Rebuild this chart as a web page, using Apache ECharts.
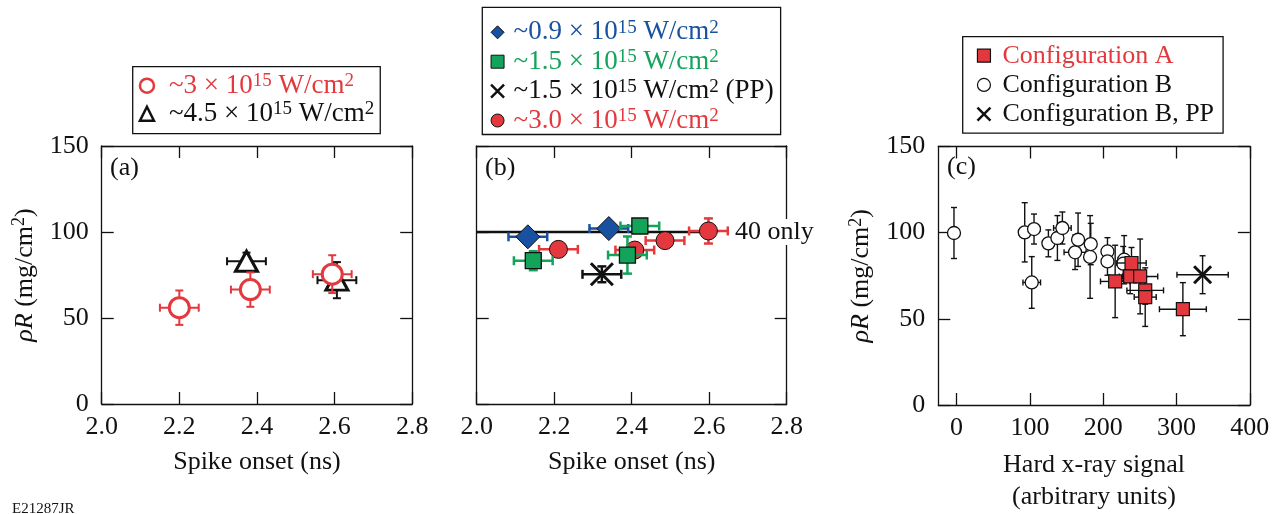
<!DOCTYPE html>
<html>
<head>
<meta charset="utf-8">
<script src="https://cdn.jsdelivr.net/npm/echarts@6/dist/echarts.min.js"></script>
<style>
  html, body { margin: 0; padding: 0; background: #fff; }
  #chart { width: 1276px; height: 514px; }
</style>
</head>
<body>
<div id="chart"></div>
<script>
const FONT = '"Liberation Serif", "Times New Roman", Times, serif';
const INK = '#111111';
const RED = '#E3393E';
const GREEN = '#13A35A';
const BLUE = '#17519F';

// Each row: [x, ρR (mg/cm²), x error, ρR error]
// Panel (a): spike onset vs ρR
const aIntensity3 = [[2.200, 56.0, 0.05, 10], [2.383, 66.5, 0.05, 10], [2.594, 75.5, 0.05, 11]];
const aIntensity45 = [[2.373, 83.0, 0.05, 5], [2.606, 72.0, 0.05, 10.5]];
// Panel (b): spike onset vs ρR by intensity
const bIntensity09 = [[2.132, 97.2, 0.05, 0], [2.341, 102.0, 0.05, 0]];
const bIntensity15 = [[2.146, 83.3, 0.05, 5.5], [2.421, 103.5, 0.05, 0], [2.389, 86.6, 0.05, 10.8]];
const bIntensity15PP = [[2.323, 75.4, 0.05, 4.6]];
const bIntensity30 = [[2.211, 89.9, 0.05, 3], [2.408, 89.5, 0.05, 0], [2.486, 95.0, 0.05, 0], [2.598, 100.6, 0.05, 7.3]];
const bOnly40 = [[2.0, 100], [2.62, 100]];
// Panel (c): hard x-ray signal vs ρR
const cConfigA = [[216.3, 71.7, 20, 21], [238.6, 82.4, 20, 9], [236.8, 74.6, 15, 10], [250.4, 74.6, 24, 21.7],
                  [257.3, 66.5, 25, 8], [257.3, 62.6, 15, 17], [308.7, 55.6, 32, 15.4]];
const cConfigB = [[-3.6, 99.8, 0, 14.8], [92.9, 100.2, 8, 17.2], [105.6, 102.1, 8, 8.7], [102.5, 71.1, 12, 15],
                  [125.2, 93.8, 6, 7.8], [137.5, 96.9, 5, 13], [144.3, 102.7, 12, 9.3], [161.6, 88.6, 15, 10],
                  [165.7, 95.9, 6, 15.5], [182.1, 85.9, 6, 24], [183.0, 93.4, 6, 12], [205.8, 89.1, 6, 8],
                  [205.8, 83.3, 6, 8], [228.6, 84.3, 8, 14], [227.3, 82.0, 6, 10]];
const cConfigBPP = [[335.6, 75.6, 35, 11]];

// Axis ticks
const spikeTicks = [2.0, 2.2, 2.4, 2.6, 2.8];
const rhoTicks = [0, 50, 100, 150];
const hxrTicks = [0, 100, 200, 300, 400];
const hxrMin = -25;

const X_PATH = 'path://M0,0L10,10M10,0L0,10';

function tickStyle() {
  return { show: true, inside: true, length: 12, lineStyle: { color: INK, width: 1.3 } };
}
function lineStyle() {
  return { show: true, onZero: false, lineStyle: { color: INK, width: 1.3 } };
}
const labelFont = { color: INK, fontFamily: FONT, fontSize: 26 };

const supRich = {
  i: { fontStyle: 'italic', fontFamily: FONT, fontSize: 26, lineHeight: 28, color: INK },
  s: { fontFamily: FONT, fontSize: 18, lineHeight: 16, verticalAlign: 'top', color: INK }
};

function spikeAxis(gridIndex, top) {
  return {
    type: 'value', gridIndex, position: top ? 'top' : 'bottom',
    min: spikeTicks[0], max: spikeTicks[spikeTicks.length - 1], interval: 0.2,
    axisLine: lineStyle(), axisTick: tickStyle(), splitLine: { show: false },
    axisLabel: top ? { show: false } : Object.assign({ show: true, margin: 10, showMinLabel: true, showMaxLabel: true,
      formatter: v => v.toFixed(1) }, labelFont),
    name: top ? '' : 'Spike onset (ns)', nameLocation: 'middle', nameGap: 45, nameMoveOverlap: false,
    nameTextStyle: Object.assign({ lineHeight: 26 }, labelFont)
  };
}
function hxrAxis(gridIndex, top) {
  return {
    type: 'value', gridIndex, position: top ? 'top' : 'bottom',
    min: hxrMin, max: hxrTicks[hxrTicks.length - 1],
    axisLine: lineStyle(),
    axisTick: Object.assign(tickStyle(), { customValues: hxrTicks }),
    splitLine: { show: false },
    axisLabel: top ? { show: false, customValues: hxrTicks }
                   : Object.assign({ show: true, margin: 10, customValues: hxrTicks }, labelFont),
    name: top ? '' : 'Hard x-ray signal\n(arbitrary units)', nameLocation: 'middle', nameGap: 44, nameMoveOverlap: false,
    nameTextStyle: Object.assign({ lineHeight: 32 }, labelFont)
  };
}
function rhoAxis(gridIndex, right, labelled) {
  return {
    type: 'value', gridIndex, position: right ? 'right' : 'left',
    min: rhoTicks[0], max: rhoTicks[rhoTicks.length - 1], interval: 50,
    axisLine: lineStyle(), axisTick: tickStyle(), splitLine: { show: false },
    axisLabel: labelled ? Object.assign({ show: true, margin: 13, showMinLabel: true, showMaxLabel: true }, labelFont)
                        : { show: false },
    name: labelled ? '{i|ρR} (mg/cm{s|2})' : '', nameLocation: 'middle', nameRotate: 90, nameGap: 63,
    nameMoveOverlap: false,
    nameTextStyle: Object.assign({ lineHeight: 28, rich: supRich }, labelFont)
  };
}

function errorBars(data, xi, color, width, cap, z) {
  return {
    type: 'custom', xAxisIndex: xi, yAxisIndex: xi, z, silent: true,
    data, encode: { x: 0, y: 1 },
    renderItem(params, api) {
      const x = api.value(0), y = api.value(1), xe = api.value(2), ye = api.value(3);
      const style = { stroke: color, lineWidth: width, fill: null };
      const kids = [];
      const seg = (x1, y1, x2, y2) => kids.push({ type: 'line', shape: { x1, y1, x2, y2 }, style });
      if (xe > 0) {
        const l = api.coord([x - xe, y]), r = api.coord([x + xe, y]);
        seg(l[0], l[1], r[0], r[1]);
        seg(l[0], l[1] - cap, l[0], l[1] + cap);
        seg(r[0], r[1] - cap, r[0], r[1] + cap);
      }
      if (ye > 0) {
        const b = api.coord([x, y - ye]), t = api.coord([x, y + ye]);
        seg(b[0], b[1], t[0], t[1]);
        seg(b[0] - cap, b[1], b[0] + cap, b[1]);
        seg(t[0] - cap, t[1], t[0] + cap, t[1]);
      }
      return { type: 'group', children: kids };
    }
  };
}

function scatter(name, data, xi, symbol, size, itemStyle, z) {
  return {
    type: 'scatter', name, data, xAxisIndex: xi, yAxisIndex: xi, symbol, symbolSize: size,
    itemStyle: Object.assign({ opacity: 1 }, itemStyle), z
  };
}

function makeRich(size, sup, spWidth) {
  const main = c => ({ color: c, fontFamily: FONT, fontSize: size, lineHeight: 28 });
  const hi = c => ({ color: c, fontFamily: FONT, fontSize: sup, lineHeight: 16, verticalAlign: 'top' });
  return {
    sp: { width: spWidth, fontSize: size },
    r: main(RED), rs: hi(RED), k: main(INK), ks: hi(INK),
    b: main(BLUE), bs: hi(BLUE), g: main(GREEN), gs: hi(GREEN)
  };
}
function intensityText(c, mant, tail) {
  return `{sp| }{${c}|~${mant} × 10}{${c}s|15}{${c}| W/cm}{${c}s|2}` + (tail ? `{${c}|${tail}}` : '');
}
const legendText = {
  'a: 3e15': intensityText('r', '3'),
  'a: 4.5e15': intensityText('k', '4.5'),
  'b: 0.9e15': intensityText('b', '0.9'),
  'b: 1.5e15': intensityText('g', '1.5'),
  'b: 1.5e15 PP': intensityText('k', '1.5', ' (PP)'),
  'b: 3.0e15': intensityText('r', '3.0'),
  'Configuration A': '{sp| }{r|Configuration A}',
  'Configuration B': '{sp| }{k|Configuration B}',
  'Configuration B, PP': '{sp| }{k|Configuration B, PP}'
};
function legendBox(left, top, padding, size, gap, rich, data) {
  return {
    orient: 'vertical', left, top, padding, itemWidth: size, itemHeight: size, itemGap: gap,
    borderColor: INK, borderWidth: 1.3, backgroundColor: '#fff', selectedMode: false,
    formatter: n => legendText[n],
    textStyle: { fontFamily: FONT, fontSize: 26, lineHeight: 28, rich },
    data
  };
}

const chart = echarts.init(document.getElementById('chart'), null, { renderer: 'canvas' });
chart.setOption({
  animation: false,
  backgroundColor: '#fff',
  textStyle: { fontFamily: FONT },
  grid: [
    { left: 101.7, top: 146, width: 310.5, height: 258, outerBoundsMode: 'none' },
    { left: 476.7, top: 146, width: 310, height: 258, outerBoundsMode: 'none' },
    { left: 938.3, top: 146.5, width: 311.5, height: 258.5, outerBoundsMode: 'none' }
  ],
  xAxis: [spikeAxis(0, false), spikeAxis(0, true), spikeAxis(1, false), spikeAxis(1, true), hxrAxis(2, false), hxrAxis(2, true)],
  yAxis: [rhoAxis(0, false, true), rhoAxis(0, true, false), rhoAxis(1, false, false), rhoAxis(1, true, false),
          rhoAxis(2, false, true), rhoAxis(2, true, false)],
  legend: [
    legendBox(132.7, 66.7, [5, 6, 6, 6], 14, 0, makeRich(27, 19, 10), [
      { name: 'a: 3e15', icon: 'circle', itemStyle: { borderWidth: 2.5 } },
      { name: 'a: 4.5e15', icon: 'triangle', itemStyle: { borderWidth: 2.5 } }
    ]),
    legendBox(482.3, 7.3, [11, 7, 0, 7.5], 13, 1.4, makeRich(27, 19, 4.5), [
      { name: 'b: 0.9e15', icon: 'diamond', itemStyle: { borderWidth: 1 } },
      { name: 'b: 1.5e15', icon: 'rect', itemStyle: { borderWidth: 1 } },
      { name: 'b: 1.5e15 PP', icon: X_PATH, itemStyle: { borderWidth: 2.5 } },
      { name: 'b: 3.0e15', icon: 'circle', itemStyle: { borderWidth: 1 } }
    ]),
    legendBox(962.7, 36.7, [5, 9, 5, 13.5], 13, 1.2, makeRich(26, 18, 7), [
      { name: 'Configuration A', icon: 'rect', itemStyle: { borderWidth: 1.2 } },
      { name: 'Configuration B', icon: 'circle', itemStyle: { borderWidth: 1.2 } },
      { name: 'Configuration B, PP', icon: X_PATH, itemStyle: { borderWidth: 2.5 } }
    ])
  ],
  graphic: [
    { type: 'text', left: 110, top: 155, style: { text: '(a)', font: '26px ' + FONT, fill: INK } },
    { type: 'text', left: 485, top: 155, style: { text: '(b)', font: '26px ' + FONT, fill: INK } },
    { type: 'text', left: 947, top: 154, style: { text: '(c)', font: '26px ' + FONT, fill: INK } },
    { type: 'text', left: 12, top: 502, style: { text: 'E21287JR', font: '15px ' + FONT, fill: INK } }
  ],
  series: [
    // panel (a)
    errorBars(aIntensity45, 0, INK, 2, 4, 2),
    scatter('a: 4.5e15', aIntensity45, 0, 'triangle', [22, 20], { color: '#fff', borderColor: INK, borderWidth: 3 }, 3),
    errorBars(aIntensity3, 0, RED, 2, 4, 4),
    scatter('a: 3e15', aIntensity3, 0, 'circle', 20, { color: '#fff', borderColor: RED, borderWidth: 3 }, 5),
    // panel (b)
    {
      type: 'line', name: '40 only', data: bOnly40, xAxisIndex: 2, yAxisIndex: 2, symbol: 'none', z: 1,
      lineStyle: { color: INK, width: 2.5 }, silent: true,
      endLabel: { show: true, formatter: '40 only', color: INK, fontFamily: FONT, fontSize: 26, distance: 16,
                  backgroundColor: '#fff', padding: [0, 2] }
    },
    errorBars(bIntensity09, 2, BLUE, 2.5, 4.5, 2),
    scatter('b: 0.9e15', bIntensity09, 2, 'diamond', [24, 24], { color: BLUE, borderColor: INK, borderWidth: 1 }, 3),
    errorBars(bIntensity30, 2, RED, 2.5, 4.5, 4),
    scatter('b: 3.0e15', bIntensity30, 2, 'circle', 18, { color: RED, borderColor: INK, borderWidth: 1 }, 5),
    errorBars(bIntensity15, 2, GREEN, 2.5, 4.5, 6),
    scatter('b: 1.5e15', bIntensity15, 2, 'rect', 16, { color: GREEN, borderColor: INK, borderWidth: 1.3 }, 7),
    errorBars(bIntensity15PP, 2, INK, 2.5, 4.5, 8),
    scatter('b: 1.5e15 PP', bIntensity15PP, 2, X_PATH, 22, { color: INK, borderColor: INK, borderWidth: 3 }, 9),
    // panel (c)
    errorBars(cConfigB, 4, INK, 1.4, 3, 2),
    scatter('Configuration B', cConfigB, 4, 'circle', 13, { color: '#fff', borderColor: INK, borderWidth: 1.3 }, 3),
    errorBars(cConfigA, 4, INK, 1.4, 3, 4),
    scatter('Configuration A', cConfigA, 4, 'rect', 13, { color: RED, borderColor: INK, borderWidth: 1.2 }, 5),
    errorBars(cConfigBPP, 4, INK, 1.4, 3, 6),
    scatter('Configuration B, PP', cConfigBPP, 4, X_PATH, 17, { color: INK, borderColor: INK, borderWidth: 3 }, 7)
  ]
});
</script>
</body>
</html>
